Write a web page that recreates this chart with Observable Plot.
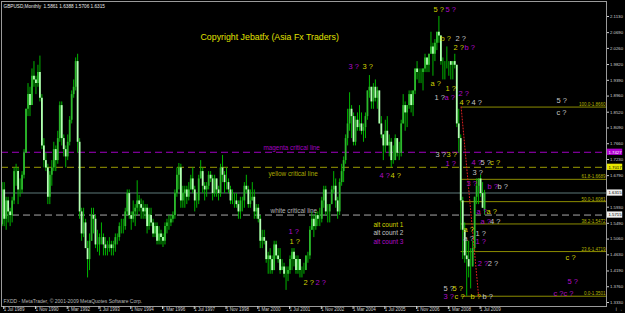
<!DOCTYPE html>
<html><head><meta charset="utf-8">
<script src="https://cdn.jsdelivr.net/npm/d3@7"></script>
<script src="https://cdn.jsdelivr.net/npm/@observablehq/plot@0.6"></script>
<style>html,body{margin:0;padding:0;background:#000;overflow:hidden}</style>
</head><body>
<script>
// GBPUSD monthly bars, index 0 = Jul 1989 ... 243 = Oct 2009
const open = [
1.545,1.640,1.560,1.610,1.580,1.570,
1.610,1.690,1.690,1.640,1.640,1.680,1.740,1.860,1.900,1.870,1.950,1.940,
1.930,1.960,1.890,1.760,1.720,1.700,1.620,1.680,1.700,1.750,1.720,1.780,
1.870,1.780,1.750,1.730,1.770,1.830,1.900,1.920,1.990,1.770,1.580,1.520,
1.550,1.480,1.450,1.500,1.570,1.560,1.490,1.490,1.510,1.510,1.490,1.480,
1.480,1.490,1.480,1.490,1.510,1.510,1.540,1.540,1.540,1.580,1.630,1.570,
1.560,1.580,1.590,1.610,1.600,1.590,1.580,1.590,1.540,1.570,1.550,1.520,
1.540,1.500,1.520,1.510,1.500,1.540,1.550,1.550,1.560,1.570,1.630,1.680,
1.700,1.610,1.630,1.640,1.620,1.640,1.670,1.640,1.610,1.610,1.670,1.690,
1.650,1.640,1.650,1.680,1.670,1.630,1.670,1.640,1.630,1.700,1.680,1.660,
1.660,1.640,1.610,1.610,1.610,1.600,1.580,1.610,1.610,1.650,1.640,1.600,
1.610,1.620,1.580,1.590,1.560,1.500,1.510,1.500,1.450,1.460,1.450,1.420,
1.490,1.460,1.450,1.420,1.430,1.410,1.410,1.420,1.450,1.470,1.450,1.420,
1.450,1.420,1.420,1.420,1.460,1.460,1.530,1.560,1.540,1.570,1.560,1.560,
1.610,1.640,1.580,1.580,1.600,1.640,1.650,1.610,1.580,1.660,1.690,1.720,
1.780,1.820,1.860,1.840,1.770,1.830,1.810,1.820,1.800,1.810,1.840,1.910,
1.920,1.880,1.920,1.890,1.910,1.820,1.790,1.760,1.800,1.760,1.770,1.720,
1.720,1.780,1.740,1.740,1.820,1.870,1.850,1.870,1.900,1.870,1.910,1.970,
1.960,1.960,1.960,1.970,2.000,1.980,2.010,2.030,2.010,2.040,2.070,2.060,
1.990,1.990,1.990,1.990,1.990,1.980,1.990,1.980,1.820,1.780,1.610,1.530,
1.460,1.450,1.430,1.430,1.480,1.620,1.650,1.670,1.630,1.5861];
const high = [
1.660,1.660,1.620,1.620,1.590,1.620,
1.700,1.710,1.700,1.670,1.690,1.750,1.860,1.930,1.920,1.970,1.990,1.950,
1.980,2.005,1.900,1.780,1.740,1.710,1.690,1.720,1.770,1.760,1.800,1.880,
1.880,1.790,1.760,1.790,1.840,1.910,1.940,2.000,2.010,1.780,1.590,1.590,
1.560,1.500,1.520,1.590,1.590,1.570,1.530,1.520,1.550,1.520,1.510,1.500,
1.510,1.500,1.500,1.520,1.520,1.550,1.560,1.560,1.590,1.640,1.640,1.580,
1.610,1.600,1.665,1.625,1.615,1.610,1.600,1.600,1.590,1.590,1.560,1.550,
1.550,1.540,1.530,1.520,1.550,1.560,1.570,1.570,1.580,1.640,1.700,1.712,
1.710,1.650,1.650,1.650,1.660,1.680,1.700,1.650,1.630,1.680,1.720,1.700,
1.660,1.660,1.690,1.690,1.680,1.680,1.670,1.650,1.710,1.734,1.690,1.700,
1.670,1.650,1.640,1.630,1.630,1.610,1.620,1.620,1.660,1.680,1.650,1.640,
1.660,1.640,1.600,1.600,1.570,1.530,1.530,1.500,1.470,1.480,1.460,1.500,
1.500,1.480,1.480,1.450,1.440,1.430,1.430,1.460,1.480,1.480,1.460,1.460,
1.450,1.430,1.440,1.460,1.470,1.540,1.580,1.570,1.580,1.580,1.590,1.620,
1.650,1.650,1.600,1.600,1.650,1.690,1.670,1.620,1.670,1.710,1.730,1.790,
1.860,1.905,1.870,1.850,1.840,1.850,1.870,1.850,1.820,1.850,1.910,1.952,
1.920,1.930,1.940,1.920,1.910,1.840,1.790,1.830,1.840,1.790,1.780,1.760,
1.790,1.780,1.770,1.830,1.900,1.880,1.870,1.910,1.910,1.910,1.970,1.990,
1.970,1.970,1.970,2.010,2.000,2.010,2.070,2.040,2.050,2.070,2.113,2.060,
2.000,1.990,2.030,1.990,1.990,1.990,2.010,1.980,1.860,1.790,1.620,1.550,
1.500,1.500,1.480,1.500,1.620,1.670,1.670,1.680,1.660,1.6388];
const low = [
1.540,1.540,1.530,1.550,1.540,1.550,
1.600,1.650,1.600,1.620,1.630,1.670,1.740,1.840,1.840,1.870,1.920,1.900,
1.920,1.880,1.750,1.700,1.690,1.600,1.600,1.650,1.690,1.690,1.710,1.770,
1.760,1.730,1.700,1.720,1.760,1.820,1.890,1.910,1.740,1.560,1.500,1.510,
1.480,1.400,1.420,1.500,1.520,1.480,1.470,1.460,1.490,1.460,1.460,1.460,
1.470,1.460,1.460,1.470,1.490,1.500,1.520,1.520,1.530,1.570,1.560,1.530,
1.550,1.540,1.570,1.580,1.560,1.560,1.560,1.520,1.530,1.540,1.510,1.510,
1.490,1.490,1.490,1.483,1.490,1.520,1.530,1.540,1.550,1.560,1.620,1.640,
1.590,1.590,1.590,1.600,1.610,1.640,1.630,1.580,1.590,1.600,1.670,1.630,
1.610,1.620,1.640,1.660,1.610,1.620,1.620,1.610,1.620,1.660,1.630,1.640,
1.630,1.600,1.600,1.590,1.590,1.560,1.560,1.580,1.590,1.630,1.590,1.590,
1.610,1.560,1.560,1.550,1.480,1.480,1.490,1.440,1.410,1.410,1.410,1.420,
1.450,1.440,1.410,1.420,1.400,1.366,1.390,1.410,1.420,1.430,1.410,1.410,
1.400,1.400,1.410,1.420,1.440,1.450,1.530,1.510,1.530,1.540,1.540,1.550,
1.590,1.570,1.550,1.550,1.600,1.630,1.590,1.560,1.570,1.650,1.660,1.710,
1.760,1.800,1.780,1.760,1.760,1.800,1.800,1.790,1.770,1.780,1.830,1.890,
1.860,1.860,1.880,1.860,1.820,1.780,1.720,1.740,1.760,1.730,1.701,1.710,
1.720,1.730,1.720,1.730,1.820,1.800,1.810,1.860,1.850,1.840,1.900,1.940,
1.930,1.930,1.910,1.960,1.960,1.960,2.010,1.950,1.990,2.020,2.040,1.980,
1.940,1.940,1.970,1.950,1.940,1.940,1.970,1.810,1.740,1.530,1.450,1.440,
1.350,1.400,1.370,1.430,1.470,1.600,1.600,1.620,1.590,1.5706];
const close = [
1.640,1.560,1.610,1.580,1.570,1.610,
1.690,1.690,1.640,1.640,1.680,1.740,1.860,1.900,1.870,1.950,1.940,1.930,
1.960,1.890,1.760,1.720,1.700,1.620,1.680,1.700,1.750,1.720,1.780,1.870,
1.780,1.750,1.730,1.770,1.830,1.900,1.920,1.990,1.770,1.580,1.520,1.550,
1.480,1.450,1.500,1.570,1.560,1.490,1.490,1.510,1.510,1.490,1.480,1.480,
1.490,1.480,1.490,1.510,1.510,1.540,1.540,1.540,1.580,1.630,1.570,1.560,
1.580,1.590,1.610,1.600,1.590,1.580,1.590,1.540,1.570,1.550,1.520,1.540,
1.500,1.520,1.510,1.500,1.540,1.550,1.550,1.560,1.570,1.630,1.680,1.700,
1.610,1.630,1.640,1.620,1.640,1.670,1.640,1.610,1.610,1.670,1.690,1.650,
1.640,1.650,1.680,1.670,1.630,1.670,1.640,1.630,1.700,1.680,1.660,1.660,
1.640,1.610,1.610,1.610,1.600,1.580,1.610,1.610,1.650,1.640,1.600,1.610,
1.620,1.580,1.590,1.560,1.500,1.510,1.500,1.450,1.460,1.450,1.420,1.490,
1.460,1.450,1.420,1.430,1.410,1.410,1.420,1.450,1.470,1.450,1.420,1.450,
1.420,1.420,1.420,1.460,1.460,1.530,1.560,1.540,1.570,1.560,1.560,1.610,
1.640,1.580,1.580,1.600,1.640,1.650,1.610,1.580,1.660,1.690,1.720,1.780,
1.820,1.860,1.840,1.770,1.830,1.810,1.820,1.800,1.810,1.840,1.910,1.920,
1.880,1.920,1.890,1.910,1.820,1.790,1.760,1.800,1.760,1.770,1.720,1.720,
1.780,1.740,1.740,1.820,1.870,1.850,1.870,1.900,1.870,1.910,1.970,1.960,
1.960,1.960,1.970,2.000,1.980,2.010,2.030,2.010,2.040,2.070,2.060,1.990,
1.990,1.990,1.990,1.990,1.980,1.990,1.980,1.820,1.780,1.610,1.530,1.460,
1.450,1.430,1.430,1.480,1.620,1.650,1.670,1.630,1.590,1.6315];

const xTicks = [0,16,32,48,64,80,96,112,128,144,160,176,192,208,224,240];
const xTickLabels = ["1 Jul 1989","1 Nov 1990","1 Mar 1992","1 Jul 1993","1 Nov 1994","1 Mar 1996","1 Jul 1997","1 Nov 1998","1 Mar 2000","1 Jul 2001","1 Nov 2002","1 Mar 2004","1 Jul 2005","1 Nov 2006","1 Mar 2008","1 Jul 2009"];
// 1.6360 sits under the current-price box in the reference, so it is not listed
const yTicks = [2.1130,2.0690,2.0260,1.9820,1.9390,1.8960,1.8520,1.8090,1.7660,1.7230,1.6790,1.5930,1.5490,1.5060,1.4630,1.4190,1.3760,1.3330];

const titleText = "GBPUSD,Monthly  1.5861 1.6388 1.5706 1.6315";
const footerText = "FXDD - MetaTrader, \u00a9 2001-2009 MetaQuotes Software Corp.";
const copyrightText = ["Copyright Jebatfx (Asia Fx Traders)", 99.9, 2.0571];

const currentPrice = 1.6315;
const levelLines = [
  {p: 1.7427, color: "#a000c0"},
  {p: 1.7017, color: "#9a9a00"},
  {p: 1.5715, color: "#a8a8a8"}
];
const priceBoxes = [
  {p: 1.7427, label: "1.7427", bg: "#b000d0", fg: "#ffffff"},
  {p: 1.7017, label: "1.7017", bg: "#e8e800", fg: "#000000"},
  {p: 1.6315, label: "1.6315", bg: "#f0f0f0", fg: "#000000"},
  {p: 1.5715, label: "1.5715", bg: "#f0f0f0", fg: "#000000"}
];
const fibStart = 231.2;
const fibLevels = [
  {p: 1.8660, label: "100.0-1.8660"},
  {p: 1.6689, label: "61.8-1.6689"},
  {p: 1.6081, label: "50.0-1.6081"},
  {p: 1.5472, label: "38.2-1.5472"},
  {p: 1.4719, label: "23.6-1.4719"},
  {p: 1.3501, label: "0.0-1.3501"}
];
const fibAnchors = [{i: 231.2, p: 1.8660}, {i: 240.0, p: 1.3501}];

const palette = {Y: "#d2d200", M: "#b00cc8", W: "#c4c4c4"};
// [text, colour, bar index of left edge, price of centre]
const waveLabels = [
  ["5 ?","Y",217.3,2.1321],["5 ?","M",223.3,2.1321],
  ["b ?","Y",220.8,2.0530],["2 ?","W",228.4,2.0530],
  ["2 ?","Y",227.4,2.0285],["b ?","M",232.9,2.0285],
  ["a ?","Y",215.8,1.9303],["1 ?","Y",223.3,1.9167],["2 ?","M",229.9,1.9030],
  ["1 ?","W",217.8,1.8921],["a ?","M",222.8,1.8921],
  ["4 ?","Y",230.4,1.8785],["4 ?","W",236.4,1.8785],
  ["3 ?","W",218.3,1.7367],["3 ?","Y",223.8,1.7367],
  ["1 ?","M",223.3,1.7121],
  ["4 ?","M",236.4,1.7149],["5 ?","W",240.9,1.7149],["c ?","Y",245.8,1.7149],
  ["3 ?","W",236.9,1.6876],["3 ?","M",233.9,1.6576],
  ["b ?","M",244.5,1.6494],["b ?","W",249.5,1.6494],
  ["a ?","M",238.9,1.5812],["a ?","Y",244.0,1.5812],
  ["a ?","M",240.9,1.5540],["4 ?","W",245.8,1.5540],
  ["a ?","Y",232.4,1.5322],["1 ?","W",238.4,1.5212],
  ["a ?","W",232.4,1.5076],["1 ?","M",238.4,1.4994],
  ["c ?","Y",283.8,1.4558],
  ["2 ?","M",239.6,1.4394],["2 ?","W",244.6,1.4394],
  ["5 ?","M",284.8,1.3903],
  ["5 ?","W",222.3,1.3713],["5 ?","Y",226.9,1.3713],
  ["3 ?","M",222.3,1.3494],["c ?","Y",227.9,1.3494],["b ?","Y",235.9,1.3494],["b ?","W",242.0,1.3494],
  ["c ?c ?","M",277.7,1.3577],
  ["5 ?","W",279.2,1.8839],["c ?","W",279.2,1.8512],
  ["3 ?","M",174.4,1.9767],["3 ?","Y",181.5,1.9767],
  ["1 ?","M",144.2,1.5267],["1 ?","Y",144.7,1.4994],
  ["2 ?","Y",151.8,1.3876],["2 ?","M",157.8,1.3876],
  ["4 ?","M",190.1,1.6794],["4 ?","Y",195.6,1.6794]
];
const lineNotes = [
  ["magenta critical line","#a000c0",131.6,1.7558],
  ["yellow critical line","#a8a800",134.1,1.6849],
  ["white critical line","#b4b4b4",135.2,1.5840]
];
const countNotes = [
  ["alt count 1","Y",187.0,1.5458],
  ["alt count 2","W",187.0,1.5226],
  ["alt count 3","M",187.0,1.4994]
];

const bars = open.map((o, i) => ({i, o, h: high[i], l: low[i], c: close[i]}));
const xMax = 304.43, boxX1 = 304.9, boxX2 = 312.6, boxHalf = 0.0085;

const chart = Plot.plot({
  width: 625, height: 313,
  marginLeft: 1, marginRight: 19, marginTop: 1, marginBottom: 7,
  x: {domain: [-0.353, xMax], axis: null},
  y: {domain: [1.3221, 2.1539], axis: null},
  color: {type: "identity"},
  style: {background: "#000", fontFamily: "Liberation Sans, Arial, sans-serif", color: "#d0d0d0"},
  marks: [
    Plot.ruleY([currentPrice], {stroke: "#2e3c3c", strokeWidth: 2}),
    Plot.ruleY(levelLines, {y: "p", stroke: "color", strokeDasharray: "7,4", strokeWidth: 1}),
    Plot.ruleY(fibLevels, {y: "p", x1: () => fibStart, x2: () => xMax, stroke: "#8c8c00", strokeWidth: 1}),
    Plot.text(fibLevels, {x: () => xMax, y: "p", text: "label", textAnchor: "end", lineAnchor: "bottom", dx: -1, dy: -1, fontSize: 4.5, fill: "#b4b400"}),
    Plot.ruleX(bars, {x: "i", y1: "l", y2: "h", stroke: "#00b400", strokeWidth: 1}),
    Plot.ruleX(bars, {x: "i", y1: "o", y2: "c", stroke: d => d.c >= d.o ? "#2cb82c" : "#b4ffb4", strokeWidth: 1.8}),
    Plot.line(fibAnchors, {x: "i", y: "p", stroke: "#e02020", strokeDasharray: "1,2", strokeWidth: 1}),
    Plot.text(lineNotes, {x: d => d[2], y: d => d[3], text: d => d[0], fill: d => d[1], textAnchor: "start", fontSize: 6.4}),
    Plot.text(countNotes, {x: d => d[2], y: d => d[3], text: d => d[0], fill: d => palette[d[1]], textAnchor: "start", fontSize: 6.5}),
    Plot.text(waveLabels, {x: d => d[2], y: d => d[3], text: d => d[0], fill: d => palette[d[1]], textAnchor: "start", fontSize: 7.5}),
    Plot.text([copyrightText], {x: d => d[1], y: d => d[2], text: d => d[0], fill: "#e0e000", textAnchor: "start", fontSize: 8.8}),
    Plot.text([titleText], {frameAnchor: "top-left", dx: 2, dy: 3, lineAnchor: "top", textAnchor: "start", fontSize: 4.7, fill: "#e8e8e8"}),
    Plot.text([footerText], {frameAnchor: "bottom-left", dx: 2, dy: -4, lineAnchor: "bottom", textAnchor: "start", fontSize: 5, fill: "#b8b8b8"}),
    Plot.frame({stroke: "#9a9a9a"}),
    Plot.axisY(yTicks, {anchor: "right", tickSize: 2, tickPadding: 1.5, fontSize: 4.3, color: "#d0d0d0", tickFormat: d => d.toFixed(4)}),
    Plot.axisX(xTicks, {anchor: "bottom", tickSize: 3, tickPadding: -2, fontSize: 4.5, textAnchor: "start", dx: 1.5, color: "#d0d0d0", tickFormat: d => xTickLabels[xTicks.indexOf(d)]}),
    Plot.rect(priceBoxes, {x1: () => boxX1, x2: () => boxX2, y1: d => d.p - boxHalf, y2: d => d.p + boxHalf, fill: "bg"}),
    Plot.text(priceBoxes, {x: () => boxX1, y: "p", text: "label", fill: "fg", textAnchor: "start", dx: 1, fontSize: 4.3})
  ]
});
document.body.appendChild(chart);
</script>
</body></html>
